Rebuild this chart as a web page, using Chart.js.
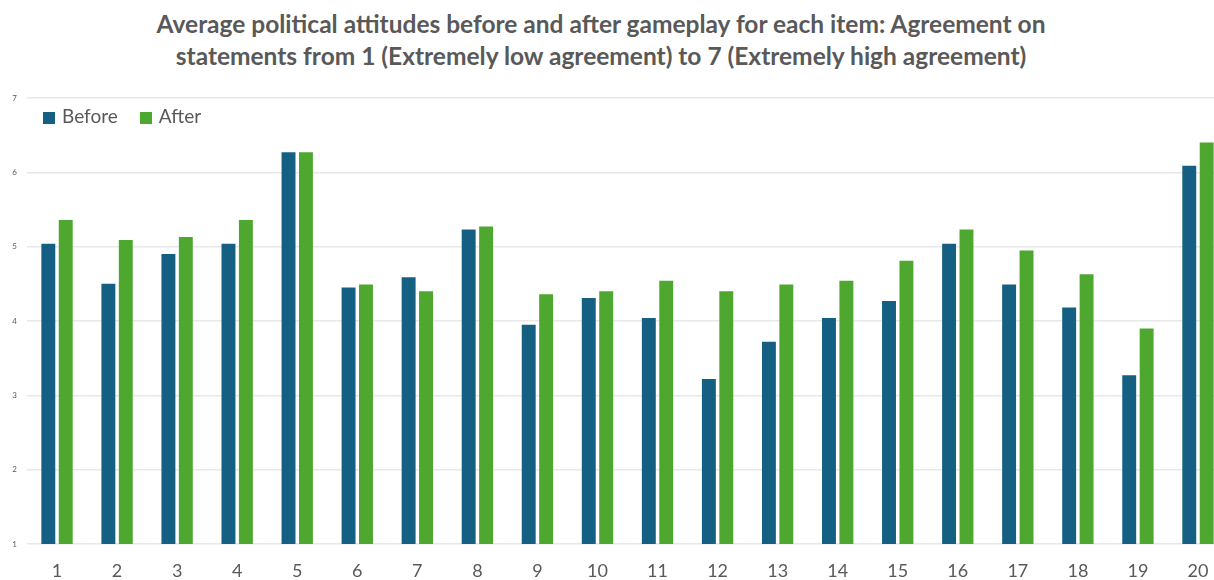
<!DOCTYPE html>
<html>
<head>
<meta charset="utf-8">
<script src="https://cdn.jsdelivr.net/npm/chart.js@4/dist/chart.umd.min.js"></script>
<style>
    body { margin: 0; overflow: hidden; background: #fff; }
    #title {
        position: absolute; left: 0; top: 8px; width: 1202px;
        text-align: center; font-family: Lato, "Open Sans", sans-serif;
        font-weight: bold; font-size: 24.5px; line-height: 32px; color: #595959;
    }
    #wrap { position: absolute; left: 0; top: 0; }
    #legend {
        position: absolute; left: 43px; top: 104px; z-index: 2;
        font-family: Lato, "Open Sans", sans-serif; font-size: 19px; color: #595959;
    }
    #legend span.item { display: inline-block; margin-right: 22px; line-height: 24px; }
    #legend span.box { display: inline-block; width: 12px; height: 12px; margin-right: 7px; vertical-align: -1px; }
</style>
</head>
<body>
<div id="title">Average political attitudes before and after gameplay for each item: Agreement on<br>statements from 1 (Extremely low agreement) to 7 (Extremely high agreement)</div>
<div id="wrap"><canvas id="myChart" width="1228" height="580"></canvas></div>
<div id="legend"></div>
<script>
// items 1..20
var items = ['1','2','3','4','5','6','7','8','9','10','11','12','13','14','15','16','17','18','19','20'];
var before = [5.04, 4.50, 4.90, 5.04, 6.27, 4.45, 4.59, 5.23, 3.95, 4.31, 4.04, 3.22, 3.72, 4.04, 4.27, 5.04, 4.49, 4.18, 3.27, 6.09];
var after  = [5.36, 5.09, 5.13, 5.36, 6.27, 4.49, 4.40, 5.27, 4.36, 4.40, 4.54, 4.40, 4.49, 4.54, 4.81, 5.23, 4.95, 4.63, 3.90, 6.40];
var yTicks = [1, 2, 3, 4, 5, 6, 7];

var grey = '#595959';

var ctx = document.getElementById('myChart').getContext('2d');
var myChart = new Chart(ctx, {
    type: 'bar',
    data: {
        labels: items,
        datasets: [
            { label: 'Before', data: before, backgroundColor: '#156082', categoryPercentage: 0.58, barPercentage: 0.8 },
            { label: 'After', data: after, backgroundColor: '#4EA72E', categoryPercentage: 0.58, barPercentage: 0.8 }
        ]
    },
    options: {
        responsive: false,
        animation: false,
        devicePixelRatio: 1,
        layout: { padding: { top: 98, right: 0, bottom: 0, left: 0 } },
        plugins: {
            legend: { display: false },
            tooltip: { enabled: false }
        },
        scales: {
            x: {
                grid: { display: false, drawTicks: false },
                border: { display: false },
                ticks: { color: grey, padding: 16, font: { family: 'Lato, "Open Sans", sans-serif', size: 18 } },
                afterFit: function (scale) { scale.height = 36; }
            },
            y: {
                min: 1, max: 7,
                afterBuildTicks: function (scale) { scale.ticks = yTicks.map(function (v) { return { value: v }; }); },
                grid: { color: '#e8e8e8', drawTicks: false, lineWidth: 1.5 },
                border: { display: false },
                ticks: { color: grey, padding: 10, font: { family: 'Lato, "Open Sans", sans-serif', size: 8 } },
                afterFit: function (scale) { scale.width = 27; }
            }
        }
    }
});

// legend built from the datasets
var legendHtml = '';
myChart.data.datasets.forEach(function (ds) {
    legendHtml += '<span class="item"><span class="box" style="background:' + ds.backgroundColor + '"></span>' + ds.label + '</span>';
});
document.getElementById('legend').innerHTML = legendHtml;
</script>
</body>
</html>
